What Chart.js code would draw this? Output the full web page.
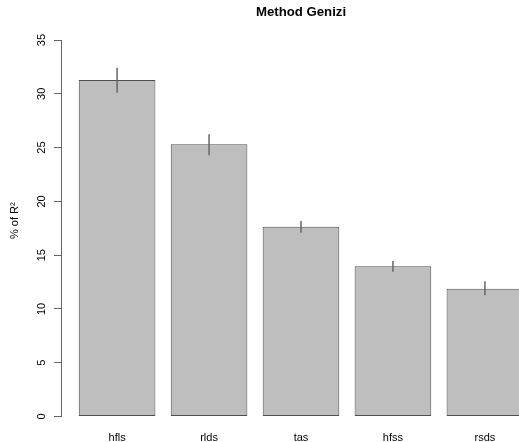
<!DOCTYPE html>
<html>
<head>
<meta charset="utf-8">
<script src="https://cdn.jsdelivr.net/npm/chart.js@4"></script>
<style>
  html, body { margin: 0; padding: 0; background: #fff; overflow: hidden; }
  canvas { display: block; }
</style>
</head>
<body>
<canvas id="genizi" width="541" height="442"></canvas>
<script>
const categories = ['hfls', 'rlds', 'tas', 'hfss', 'rsds'];
const shares = [31.28, 25.3, 17.64, 13.96, 11.88];
const errLow = [30.1, 24.3, 17.09, 13.46, 11.27];
const errHigh = [32.43, 26.23, 18.17, 14.46, 12.57];
const yTicks = [0, 5, 10, 15, 20, 25, 30, 35];

// R barplot puts bar i at 0.7 + 1.2*i (width 1, space 0.2)
const barPos = categories.map((c, i) => 0.7 + i * 1.2);

const font = "'Liberation Sans', Arial, Helvetica, sans-serif";

// draws the vertical error lines
const errorBars = {
    id: 'errorBars',
    afterDatasetsDraw(chart) {
        const ctx = chart.ctx;
        const xs = chart.scales.x;
        const ys = chart.scales.y;
        ctx.save();
        ctx.strokeStyle = '#666';
        ctx.lineWidth = 1.5;
        for (let i = 0; i < categories.length; i++) {
            const x = xs.getPixelForValue(barPos[i]);
            ctx.beginPath();
            ctx.moveTo(x, ys.getPixelForValue(errLow[i]));
            ctx.lineTo(x, ys.getPixelForValue(errHigh[i]));
            ctx.stroke();
        }
        ctx.restore();
    }
};

const ctx = document.getElementById('genizi').getContext('2d');
new Chart(ctx, {
    type: 'bar',
    data: {
        datasets: [{
            data: shares.map((v, i) => ({ x: barPos[i], y: v })),
            backgroundColor: '#bebebe',
            borderColor: '#4d4d4d',
            borderWidth: 1,
            borderSkipped: false,
            categoryPercentage: 1,
            barPercentage: 1 / 1.2
        }]
    },
    options: {
        responsive: false,
        animation: false,
        layout: { padding: 0 },
        plugins: {
            legend: { display: false },
            tooltip: { enabled: false },
            title: {
                display: true,
                text: 'Method Genizi',
                fullSize: false,
                color: '#000',
                font: { family: font, size: 13.2, weight: 'bold' },
                padding: { top: 4.6, bottom: 19.6 }
            }
        },
        scales: {
            x: {
                type: 'linear',
                offset: false,
                min: -0.032,
                max: 6.232,
                grid: { display: false, drawTicks: false },
                border: { display: false },
                afterBuildTicks: axis => {
                    axis.ticks = barPos.map(v => ({ value: v }));
                },
                afterFit: scale => { scale.height = 25.5; },
                ticks: {
                    autoSkip: false,
                    maxRotation: 0,
                    padding: 14.5,
                    color: '#000',
                    font: { family: font, size: 11 },
                    callback: (value, index) => categories[index]
                }
            },
            y: {
                min: 0,
                max: 35,
                afterBuildTicks: axis => {
                    axis.ticks = yTicks.map(v => ({ value: v }));
                },
                afterFit: scale => { scale.width = 61; },
                grid: {
                    drawOnChartArea: false,
                    drawTicks: true,
                    tickLength: 7,
                    color: '#666'
                },
                border: { display: true, color: '#666', width: 1 },
                ticks: {
                    minRotation: 90,
                    maxRotation: 90,
                    crossAlign: 'center',
                    padding: 6.4,
                    color: '#000',
                    font: { family: font, size: 11 }
                },
                title: {
                    display: true,
                    // leading spaces nudge the label up like R's mtext
                    text: '\u00a0\u00a0\u00a0\u00a0\u00a0% of R²',
                    color: '#000',
                    font: { family: font, size: 11 },
                    padding: { top: 8, bottom: 0 }
                }
            }
        }
    },
    plugins: [errorBars]
});
</script>
</body>
</html>
